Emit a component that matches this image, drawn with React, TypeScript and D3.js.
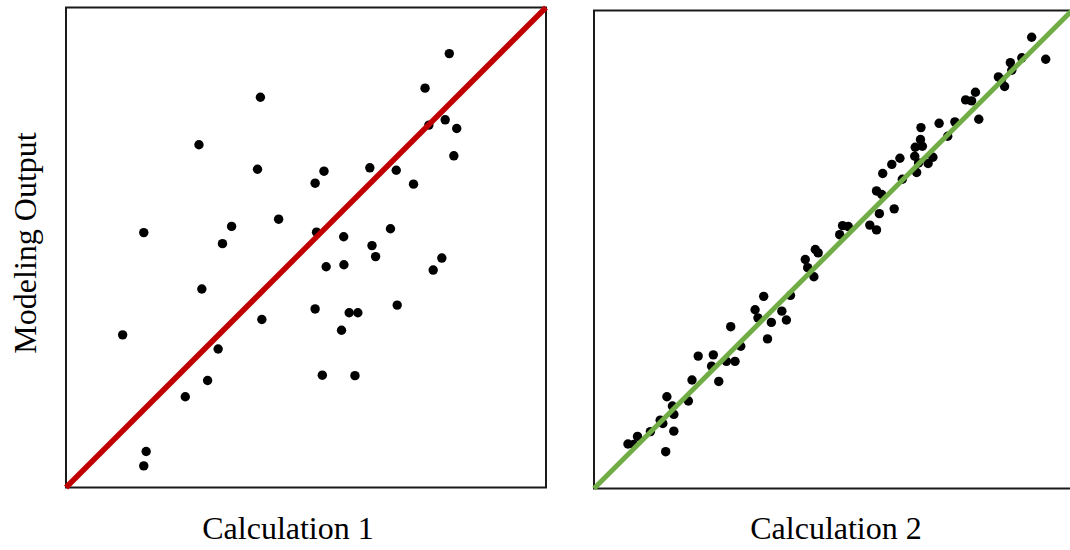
import React from "react";
import * as d3 from "d3";

// Panel 1: Calculation 1 vs Modeling Output (0-100 units)
const calc1X = [79.85,74.8,40.5,79.0,75.6,81.4,27.7,80.8,39.9,53.75,63.3,68.8,51.9,72.4,44.3,34.5,16.2,52.2,57.85,67.6,32.6,63.75,64.5,78.3,54.2,57.9,76.5,28.3,51.9,59.0,60.8,69.0,40.8,57.4,11.8,31.7,29.5,53.4,60.2,24.85,16.7,16.2];
const calc1Y = [90.4,83.2,81.3,76.6,75.5,74.8,71.4,69.1,66.3,65.9,66.6,66.1,63.4,63.2,55.9,54.4,53.1,53.2,52.25,53.9,50.8,50.4,48.1,47.8,46.0,46.4,45.3,41.35,37.2,36.4,36.4,38.0,35.0,32.75,31.8,28.85,22.3,23.4,23.3,18.9,7.5,4.5];

// Panel 2: Calculation 2 vs Modeling Output
const calc2X = [91.56,94.5,89.5,87.1,87.4,84.6,85.25,85.9,79.8,77.75,79.0,80.5,75.5,72.2,74.0,68.4,68.3,68.7,67.2,67.1,70.9,67.9,69.9,64.0,62.3,60.4,67.5,64.5,59.1,60.2,62.8,59.7,57.7,59.1,52.0,53.2,51.4,46.3,46.9,44.2,44.7,46.0,35.5,41.1,33.7,39.3,34.3,37.1,40.25,36.3,28.6,30.7,21.8,24.96,24.6,27.7,29.5,20.5,26.1,15.25,19.75,16.4,16.7,13.85,14.4,16.7,11.8,9.1,7.1,8.3,15.0];
const calc2Y = [94.4,89.8,90.1,89.1,87.5,86.1,85.5,84.1,82.9,81.3,81.1,77.25,76.7,76.4,73.7,75.5,73.0,71.6,71.4,69.5,69.3,68.1,68.0,69.1,67.8,65.9,66.1,64.7,62.25,61.5,58.5,57.5,55.1,54.1,55.0,54.8,53.1,50.0,49.3,47.9,46.2,44.3,40.2,40.4,37.4,37.1,35.7,34.75,35.25,31.3,33.85,29.75,27.7,27.96,25.6,26.6,26.6,22.7,22.4,19.2,18.3,17.25,15.5,14.3,13.6,12.0,11.9,10.9,9.3,9.2,7.7];

const xLabels = ["Calculation 1", "Calculation 2"];
const yLabel = "Modeling Output";

const FONT = "'Liberation Serif', 'Times New Roman', serif";

type PanelProps = {
  x0: number; y0: number; size: number;
  xs: number[]; ys: number[];
  lineColor: string; lineWidth: number; label: string; labelX: number;
};

function Panel({ x0, y0, size, xs, ys, lineColor, lineWidth, label, labelX }: PanelProps) {
  const x = d3.scaleLinear().domain([0, 100]).range([x0, x0 + size]);
  const y = d3.scaleLinear().domain([0, 100]).range([y0 + size, y0]);
  const line = d3.line<number>().x((d) => x(d)).y((d) => y(d));
  return (
    <g>
      <rect x={x0} y={y0} width={size} height={size} fill="white" stroke="#1a1a1a" strokeWidth={2} />
      {xs.map((v, i) => (
        <circle key={i} cx={x(v)} cy={y(ys[i])} r={4.7} fill="#000" />
      ))}
      <path d={line([0, 100]) || ""} stroke={lineColor} strokeWidth={lineWidth} fill="none" />
      <text x={labelX} y={539} textAnchor="middle" fontFamily={FONT} fontSize={32} fill="#000">{label}</text>
    </g>
  );
}

export default function App() {
  return (
    <div style={{ position: "fixed", left: 0, top: 0 }}>
      <svg width={1070} height={550} style={{ display: "block", background: "white" }}>
        <Panel x0={66} y0={7.5} size={480} xs={calc1X} ys={calc1Y} lineColor="#c00000" lineWidth={5.5} label={xLabels[0]} labelX={288} />
        <Panel x0={594} y0={10.5} size={478} xs={calc2X} ys={calc2Y} lineColor="#70ad47" lineWidth={5} label={xLabels[1]} labelX={836} />
        <text transform="translate(36,243) rotate(-90)" textAnchor="middle" fontFamily={FONT} fontSize={32} fill="#000">{yLabel}</text>
      </svg>
    </div>
  );
}
